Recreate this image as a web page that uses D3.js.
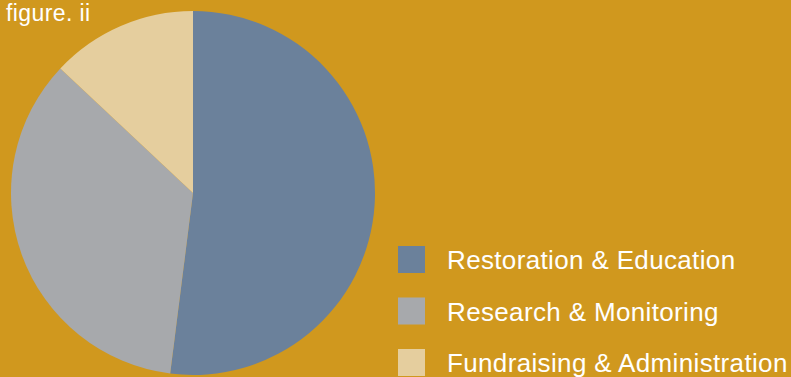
<!DOCTYPE html>
<html>
<head>
<meta charset="utf-8">
<script src="https://cdn.jsdelivr.net/npm/d3@7"></script>
<style>
  html, body { margin: 0; padding: 0; background: #D0981E; }
  svg { display: block; }
  text { font-family: "Liberation Sans", Arial, Helvetica, sans-serif; fill: #ffffff; }
</style>
</head>
<body>
<svg id="chart" width="791" height="377"></svg>
<script>
// budget split
const categories = ["Restoration & Education", "Research & Monitoring", "Fundraising & Administration"];
const shares = [52, 35, 13];
const colors = ["#6B819B", "#A7A9AC", "#E5CE9E"];

const width = 791, height = 377;
const svg = d3.select("#chart");

svg.append("rect")
  .attr("width", width)
  .attr("height", height)
  .attr("fill", "#D0981E");

const data = categories.map((c, i) => ({ name: c, value: shares[i], color: colors[i] }));

const pie = d3.pie().sort(null).value(d => d.value);
const arc = d3.arc().innerRadius(0).outerRadius(182);

const g = svg.append("g").attr("transform", "translate(193,193)");
g.selectAll("path")
  .data(pie(data))
  .enter()
  .append("path")
  .attr("d", arc)
  .attr("fill", d => d.data.color);

svg.append("text")
  .attr("x", 6)
  .attr("y", 21)
  .style("font-size", "23px")
  .style("letter-spacing", "0.4px")
  .text("figure. ii");

// legend
const legend = svg.append("g").attr("transform", "translate(398,246)");
const rows = legend.selectAll("g")
  .data(data)
  .enter()
  .append("g")
  .attr("transform", (d, i) => `translate(0,${i * 51.5})`);

rows.append("rect")
  .attr("width", 27)
  .attr("height", 27)
  .attr("fill", d => d.color);

rows.append("text")
  .attr("x", 49)
  .attr("y", 23)
  .style("font-size", "26px")
  .style("letter-spacing", "0.35px")
  .text(d => d.name);
</script>
</body>
</html>
